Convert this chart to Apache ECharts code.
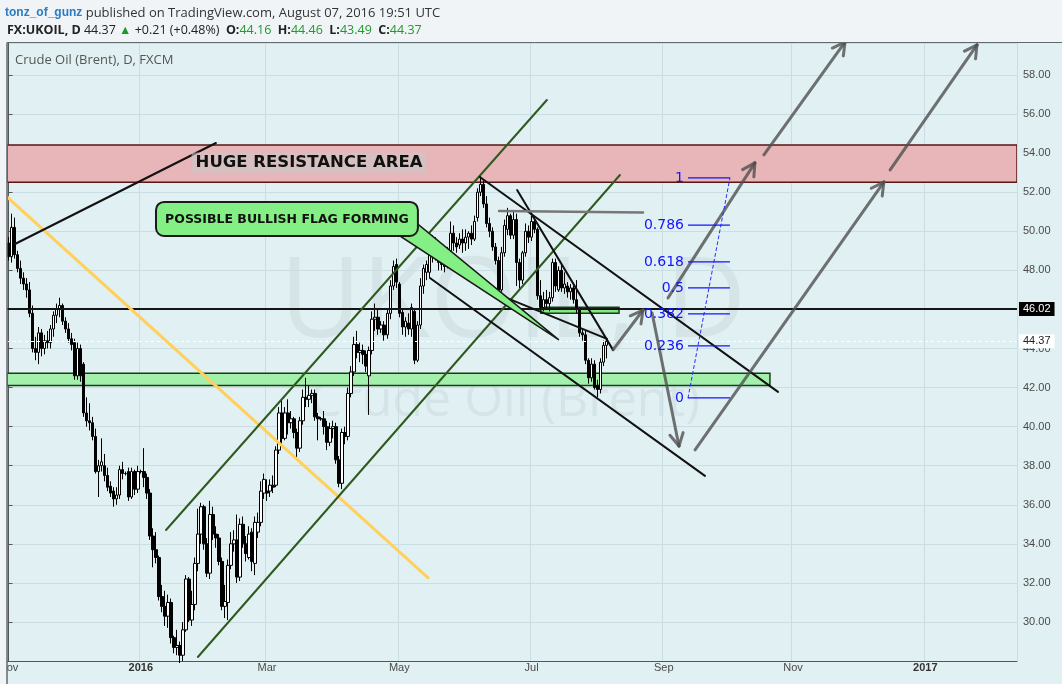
<!DOCTYPE html>
<html>
<head>
<meta charset="utf-8">
<title>Crude Oil (Brent), D, FXCM</title>
<script src="https://cdn.jsdelivr.net/npm/echarts/dist/echarts.min.js"></script>
<style>
  html, body { margin: 0; padding: 0; background: #e1f0f2; }
  #chart { width: 1062px; height: 684px; }
</style>
</head>
<body>
<div id="chart"></div>
<script>
// daily bars, [open, close, low, high], one array per month (weekdays only)
const nov2015 = [
  [49.4,48.7,48.5,49.7],[48.7,50.2,48.4,50.9],[50.2,48.8,48.6,50.7],[48.8,48.1,47.9,49.0],[48.1,47.6,47.3,48.5],
  [47.6,47.3,47.0,47.9],[47.3,47.0,46.6,47.6],[47.0,45.8,45.6,47.4],[45.8,44.0,43.8,46.2],[44.0,43.8,43.4,44.6],
  [43.8,44.8,43.2,45.1],[44.8,44.0,43.6,45.0],[44.0,44.4,43.7,44.7],[44.4,44.3,44.0,44.9],[44.3,45.0,44.0,45.2],
  [45.0,45.7,44.6,45.9],[45.7,46.0,45.3,46.3],[46.0,46.2,45.6,46.6],[46.2,45.4,45.2,46.3],[45.4,45.0,44.8,45.6],
  [45.0,44.5,44.3,45.3]
];
const dec2015 = [
  [44.5,44.2,43.9,44.8],[44.3,42.6,42.4,44.5],[42.6,44.0,42.4,44.3],[44.0,42.6,42.3,44.2],[43.2,40.7,40.5,43.3],
  [40.7,40.3,40.0,41.5],[40.3,40.2,39.8,41.2],[40.2,39.5,39.3,40.5],[39.5,37.7,37.6,39.9],[37.7,38.0,36.4,38.3],
  [38.0,38.2,37.7,39.4],[38.0,37.5,37.2,38.6],[37.5,36.9,36.7,37.9],[36.95,36.6,36.4,37.2],[36.7,36.3,35.9,36.9],
  [36.3,36.5,36.0,36.9],[36.5,37.8,36.3,38.0],[37.8,37.6,37.3,38.2],[37.6,37.6,37.5,37.7],[37.7,36.4,36.2,37.9],
  [36.4,37.7,36.3,37.9],[37.7,36.8,36.5,37.8],[36.8,37.7,36.6,38.0]
];
const jan2016 = [
  [37.7,37.7,37.6,37.8],[37.7,37.4,36.9,38.9],[37.4,36.6,36.3,37.6],[36.6,34.4,34.2,36.8],[34.4,33.7,32.8,34.8],
  [33.7,33.3,33.0,34.6],[33.3,31.3,31.1,33.4],[31.3,30.8,30.5,31.9],[30.8,30.3,29.8,31.6],[30.3,31.0,29.7,31.4],
  [31.0,29.2,28.9,31.2],[29.2,28.7,28.4,29.3],[28.7,28.8,28.3,29.6],[28.8,28.3,27.9,29.0],[28.3,29.6,28.0,30.0],
  [29.6,32.2,29.5,32.4],[32.2,30.1,30.0,32.3],[30.1,30.9,29.8,31.6],[30.9,33.0,30.6,33.3],[33.0,34.5,32.6,35.8],
  [34.5,35.9,34.0,36.1]
];
const feb2016 = [
  [35.9,34.0,33.7,36.0],[34.0,32.5,32.3,34.3],[32.5,35.5,32.2,36.2],[35.5,34.5,34.2,35.9],[34.5,34.3,33.8,34.9],
  [34.3,33.1,32.9,34.5],[33.1,30.8,30.6,33.3],[30.8,31.05,30.2,31.9],[31.0,32.9,30.1,33.2],[32.9,34.0,32.7,34.6],
  [34.0,34.2,33.6,34.7],[34.2,32.3,32.0,35.5],[32.3,35.0,32.1,35.3],[35.0,34.0,33.8,35.4],[34.0,33.5,33.1,34.4],
  [33.3,34.5,33.2,34.9],[34.6,33.1,32.6,34.8],[33.0,35.1,32.4,35.4],[34.6,35.1,34.3,35.6],[35.1,36.7,34.9,37.2],
  [36.6,37.3,36.3,37.6]
];
const mar2016 = [
  [36.7,36.6,36.2,37.3],[36.7,37.0,36.4,37.3],[37.0,36.9,36.6,37.5],[37.0,38.8,36.9,39.0],[38.8,40.7,38.6,41.0],
  [40.7,39.4,39.1,41.4],[39.4,40.7,39.3,41.0],[40.7,40.2,39.6,41.4],[40.2,40.4,39.9,40.8],[40.4,39.7,39.4,40.5],
  [39.7,38.9,38.4,39.9],[38.9,40.3,38.7,40.5],[40.3,41.5,40.1,41.9],[41.5,41.4,41.0,42.5],[41.4,41.6,41.0,42.1],
  [41.6,41.7,41.2,41.9],[41.7,40.5,40.3,41.9],[40.5,40.4,39.3,40.7],[40.4,40.4,40.3,40.5],[40.4,40.0,39.6,40.8],
  [40.0,39.2,38.8,40.3],[39.2,39.9,39.0,40.2],[39.9,40.0,39.4,40.3]
];
const apr2016 = [
  [40.0,38.3,38.1,40.2],[38.3,37.1,36.9,38.5],[37.1,39.7,36.8,39.9],[39.7,39.5,39.1,40.0],[39.5,41.7,39.3,42.0],
  [41.7,42.8,41.5,43.1],[42.8,44.2,42.6,44.6],[44.2,43.8,43.5,44.9],[43.8,43.9,43.3,44.3],[43.9,43.7,43.2,44.2],
  [43.7,43.1,42.8,43.9],[42.6,43.9,40.6,44.1],[43.9,45.5,43.7,45.9],[45.5,45.6,44.9,46.3],[45.6,45.0,44.7,46.0],
  [45.0,45.2,44.8,45.4],[45.2,44.7,44.4,45.4],[44.7,45.8,44.5,46.0],[45.8,47.2,45.5,47.5],[47.2,48.2,47.0,48.5],
  [48.3,47.4,47.1,48.6]
];
const may2016 = [
  [47.3,45.8,45.6,47.4],[45.85,45.1,44.7,46.0],[45.1,45.4,44.6,45.6],[45.3,45.0,44.7,45.8],[45.0,46.1,44.6,46.3],
  [45.9,43.4,43.2,46.0],[43.4,45.2,43.3,45.4],[45.2,47.2,45.0,47.6],[47.2,48.1,46.8,48.3],[47.9,48.3,47.5,48.5],
  [47.9,49.3,47.6,49.8],[48.7,49.6,48.4,49.8],[49.6,48.8,48.5,49.7],[48.4,48.85,48.0,49.2],[48.85,48.3,48.0,49.1],
  [48.8,48.2,47.9,49.0],[48.3,49.0,48.1,49.2],[49.0,49.9,48.9,50.5],[49.9,49.4,49.0,50.3],[49.4,49.2,48.9,49.7],
  [49.3,49.6,49.1,49.9],[49.6,49.4,48.9,50.1]
];
const jun2016 = [
  [49.4,49.7,49.0,50.1],[49.7,49.9,49.1,50.0],[49.9,49.6,49.3,50.3],[49.6,50.5,49.5,50.8],[50.7,52.0,50.5,52.2],
  [52.0,52.4,51.8,52.9],[52.4,51.4,51.2,52.6],[51.4,50.4,50.2,51.8],[50.4,50.0,49.7,50.7],[50.0,49.2,49.0,50.2],
  [49.2,48.5,48.3,49.4],[48.5,47.0,46.8,48.7],[47.0,48.9,46.9,49.2],[48.9,50.3,48.7,50.6],[50.1,50.8,49.8,51.2],
  [50.8,49.8,49.6,50.9],[49.8,50.6,49.6,51.0],[50.6,48.4,47.2,50.9],[48.4,47.5,47.0,48.6],[47.5,48.9,47.3,49.0],
  [48.9,50.0,48.7,50.4],[50.0,49.7,49.4,50.3]
];
const jul2016 = [
  [49.7,50.5,49.5,50.8],[50.5,50.1,49.9,50.6],[50.1,46.7,46.5,50.2],[46.7,46.1,45.9,47.5],[46.1,46.5,45.9,46.9],
  [46.5,46.3,46.0,47.0],[46.3,46.6,45.9,46.9],[46.6,48.4,46.4,48.6],[48.4,47.2,46.9,48.6],[47.0,48.0,46.9,48.2],
  [48.0,47.1,46.9,48.3],[47.1,47.3,46.8,47.9],[47.2,46.9,46.6,47.4],[46.9,47.1,46.5,47.3],[47.1,46.5,46.3,47.3],
  [46.5,46.1,45.8,47.5],[46.0,44.8,44.6,46.1],[44.8,44.7,44.4,45.0],[44.7,43.4,43.2,44.9],[43.4,42.5,42.2,43.5],
  [42.5,43.2,42.3,43.5]
];
const aug2016 = [
  [43.2,42.0,41.9,43.4],[42.1,41.9,41.5,42.4],[41.9,43.3,41.7,43.5],[43.3,44.16,43.1,44.4],[44.16,44.37,43.49,44.46]
];

// price axis ticks
const priceMin = 28, priceMax = 59.638, priceStep = 2;
const lastPrice = 44.37;
const supportLevel = 46.02;

// drawings, in [bar index, price] coordinates
const yellowLine   = [[-0.5, 51.76, 139.6, 32.26]];
const blackLines   = [
  [2.16, 49.35, 69.0, 54.52],
  [156.8, 52.78, 256.0, 41.78],
  [169.2, 52.11, 201.1, 43.93],
  [140.2, 47.61, 231.7, 37.48],
  [157.5, 47.10, 199.1, 44.49]
];
const greenChannel = [[52.4, 34.71, 179.1, 56.72], [63.0, 28.21, 203.4, 52.88]];
const grayLevel    = [[163.2, 51.04, 211.1, 50.96]];
const arrowSegs    = [
  [201.1, 43.93, 211.1, 45.97],
  [214.1, 45.82, 223.05, 39.01],
  [219.4, 46.59, 248.3, 53.50],
  [251.3, 53.91, 278.3, 59.69],
  [228.4, 38.81, 291.2, 52.52],
  [293.3, 53.14, 322.2, 59.54]
];
const resistanceZone = [-0.5, 335.5, 52.51, 54.42];
const supportZone    = [-0.5, 253.3, 42.10, 42.73];
const julyBox        = [177.1, 203.1, 45.80, 46.11];
const fibRatios = ['0', '0.236', '0.382', '0.5', '0.618', '0.786', '1'];
const fibPrices = [41.47, 44.13, 45.77, 47.10, 48.43, 50.32, 52.73];
const fibBars   = [226.05, 240.0];
const calloutBox  = [49.07, 136.2, 49.76, 51.50];
const calloutTail = [[130.2, 49.76], [136.2, 50.37], [183.1, 44.44]];
const resistanceLabelAt = [99.97, 53.50];

const bars = [].concat(nov2015, dec2015, jan2016, feb2016, mar2016, apr2016, may2016, jun2016, jul2016, aug2016);

// weekday categories from the first bar, running on into the empty future space
const N_CATS = 336;
const dates = [];
let day = new Date(Date.UTC(2015, 10, 2));
while (dates.length < N_CATS) {
  const wd = day.getUTCDay();
  if (wd !== 0 && wd !== 6) dates.push(day.toISOString().slice(0, 10));
  day = new Date(day.getTime() + 86400000);
}
const monthNames = ['Jan','Feb','Mar','Apr','May','Jun','Jul','Aug','Sep','Oct','Nov','Dec'];
const isMark = (i) => {
  const m = +dates[i].slice(5, 7) - 1;
  if (m % 2 !== 0) return false;
  return i === 0 || dates[i - 1].slice(5, 7) !== dates[i].slice(5, 7);
};

const gridColor = '#c9dde2';

function segSeries(segs, stroke, width, arrow, dash) {
  return {
    type: 'custom', xAxisIndex: 1, yAxisIndex: 0, z: 5, clip: true, silent: true,
    data: segs,
    encode: { x: [0, 2], y: [1, 3] },
    renderItem: function (params, api) {
      const a = api.coord([api.value(0), api.value(1)]);
      const b = api.coord([api.value(2), api.value(3)]);
      const kids = [{
        type: 'line',
        shape: { x1: a[0], y1: a[1], x2: b[0], y2: b[1] },
        style: { stroke: stroke, lineWidth: width, lineDash: dash || null, lineCap: 'round' }
      }];
      if (arrow) {
        const ang = Math.atan2(b[1] - a[1], b[0] - a[0]);
        [ang + Math.PI - 0.5, ang + Math.PI + 0.5].forEach(function (t) {
          kids.push({
            type: 'line',
            shape: { x1: b[0], y1: b[1], x2: b[0] + 14 * Math.cos(t), y2: b[1] + 14 * Math.sin(t) },
            style: { stroke: stroke, lineWidth: width, lineCap: 'round' }
          });
        });
      }
      return { type: 'group', children: kids };
    }
  };
}

function zoneSeries(zone, fill, stroke, width) {
  return {
    type: 'custom', xAxisIndex: 1, yAxisIndex: 0, z: 1, clip: true, silent: true,
    data: [zone],
    encode: { x: [0, 1], y: [2, 3] },
    renderItem: function (params, api) {
      const p0 = api.coord([api.value(0), api.value(2)]);
      const p1 = api.coord([api.value(1), api.value(3)]);
      return {
        type: 'rect',
        shape: { x: p0[0], y: p1[1], width: p1[0] - p0[0], height: p0[1] - p1[1] },
        style: { fill: fill, stroke: stroke, lineWidth: width }
      };
    }
  };
}

const fibSeries = {
  type: 'custom', xAxisIndex: 1, yAxisIndex: 0, z: 6, clip: true, silent: true,
  data: fibPrices.map(function (p) { return [fibBars[0], p, fibBars[1]]; }),
  encode: { x: [0, 2], y: 1 },
  renderItem: function (params, api) {
    const a = api.coord([api.value(0), api.value(1)]);
    const b = api.coord([api.value(2), api.value(1)]);
    return {
      type: 'group',
      children: [
        { type: 'line', shape: { x1: a[0], y1: a[1], x2: b[0], y2: b[1] }, style: { stroke: '#1414ff', lineWidth: 1.2 } },
        { type: 'text', x: a[0] - 4, y: a[1], style: {
          text: fibRatios[params.dataIndex], font: '14px "DejaVu Sans"', fill: '#1414ff',
          align: 'right', verticalAlign: 'middle' } }
      ]
    };
  }
};

const calloutSeries = {
  type: 'custom', xAxisIndex: 1, yAxisIndex: 0, z: 7, clip: true, silent: true,
  data: [calloutBox],
  encode: { x: [0, 1], y: [2, 3] },
  renderItem: function (params, api) {
    const tl = api.coord([api.value(0), api.value(3)]);
    const br = api.coord([api.value(1), api.value(2)]);
    const tail = calloutTail.map(function (p) { return api.coord(p); });
    return {
      type: 'group',
      children: [
        { type: 'polygon', shape: { points: tail }, style: { fill: '#84ef84', stroke: '#1a1a1a', lineWidth: 1.5 } },
        { type: 'rect', shape: { x: tl[0], y: tl[1], width: br[0] - tl[0], height: br[1] - tl[1], r: 8 },
          style: { fill: '#84ef84', stroke: '#1a1a1a', lineWidth: 2 } },
        { type: 'text', x: (tl[0] + br[0]) / 2, y: (tl[1] + br[1]) / 2 + 1, style: {
          text: 'POSSIBLE BULLISH FLAG FORMING', font: 'bold 12.5px "DejaVu Sans"', fill: '#111',
          align: 'center', verticalAlign: 'middle' } }
      ]
    };
  }
};

const resistanceLabel = {
  type: 'custom', xAxisIndex: 1, yAxisIndex: 0, z: 7, silent: true,
  data: [resistanceLabelAt],
  encode: { x: 0, y: 1 },
  renderItem: function (params, api) {
    const p = api.coord([api.value(0), api.value(1)]);
    return { type: 'text', x: p[0], y: p[1], style: {
      text: 'HUGE RESISTANCE AREA', font: 'bold 16.5px "DejaVu Sans"', fill: '#111',
      align: 'center', verticalAlign: 'middle', backgroundColor: 'rgba(200,200,200,0.55)', padding: [2, 4] } };
  }
};

const chart = echarts.init(document.getElementById('chart'));
chart.setOption({
  animation: false,
  backgroundColor: '#e1f0f2',
  grid: { left: 7, right: 45, top: 43, bottom: 22.93, containLabel: false, outerBoundsMode: 'none' },
  xAxis: [
    {
      type: 'category', data: dates, boundaryGap: true,
      axisLine: { lineStyle: { color: '#555' } },
      axisTick: { show: false },
      axisLabel: {
        interval: function (i) { return isMark(i); },
        margin: 1, fontSize: 11, color: '#4a4a4a', fontFamily: 'Liberation Sans',
        formatter: function (v) {
          const m = +v.slice(5, 7) - 1;
          return m === 0 ? '{y|' + v.slice(0, 4) + '}' : monthNames[m];
        },
        rich: { y: { fontWeight: 'bold', fontSize: 11, color: '#333', fontFamily: 'Liberation Sans' } }
      },
      splitLine: { show: true, interval: function (i) { return isMark(i); }, lineStyle: { color: gridColor } }
    },
    { type: 'value', min: -0.5, max: N_CATS - 0.5, show: false }
  ],
  yAxis: {
    type: 'value', position: 'right', min: priceMin, max: priceMax, interval: priceStep,
    axisLine: { show: true, lineStyle: { color: '#555' } },
    axisTick: { show: true, length: 4, lineStyle: { color: '#555' } },
    axisLabel: {
      showMinLabel: false, showMaxLabel: false, margin: 6,
      fontSize: 11, color: '#4a4a4a', fontFamily: 'Liberation Sans',
      formatter: function (v) { return v.toFixed(2); }
    },
    splitLine: { show: true, lineStyle: { color: gridColor } }
  },
  graphic: [
    { type: 'text', x: 513, y: 305, z: 0, silent: true, style: {
      text: 'UKOIL, D', font: '112px "Open Sans"', fill: 'rgba(90,110,120,0.09)', align: 'center', verticalAlign: 'middle' } },
    { type: 'text', x: 505, y: 402, z: 0, silent: true, style: {
      text: 'Crude Oil (Brent)', font: '50px "Open Sans"', fill: 'rgba(90,110,120,0.09)', align: 'center', verticalAlign: 'middle' } },
    { type: 'rect', z: 20, silent: true, shape: { x: 0, y: 0, width: 1062, height: 42.5 }, style: { fill: '#f1f4f6' } },
    { type: 'rect', z: 20, silent: true, shape: { x: 0, y: 0, width: 6.5, height: 684 }, style: { fill: '#f1f4f6' } },
    { type: 'line', z: 21, silent: true, shape: { x1: 7, y1: 42.5, x2: 1062, y2: 42.5 }, style: { stroke: '#5f6b70', lineWidth: 1 } },
    { type: 'line', z: 21, silent: true, shape: { x1: 7, y1: 42.5, x2: 7, y2: 684 }, style: { stroke: '#5f6b70', lineWidth: 1.5 } },
    { type: 'text', x: 5, y: 13, z: 22, silent: true, style: {
      text: '{u|tonz_of_gunz} published on TradingView.com, August 07, 2016 19:51 UTC',
      font: '13px "Open Sans"', fill: '#333', verticalAlign: 'middle',
      rich: { u: { fill: '#2b7cc0', fontWeight: 'bold', font: 'bold 13px "Open Sans"' } } } },
    { type: 'text', x: 7, y: 30, z: 22, silent: true, style: {
      text: '{b|FX:UKOIL, D} 44.37 {g|\u25B2} +0.21 (+0.48%)  {b|O:}{g|44.16}  {b|H:}{g|44.46}  {b|L:}{g|43.49}  {b|C:}{g|44.37}',
      font: '12.5px "Open Sans"', fill: '#222', verticalAlign: 'middle',
      rich: {
        b: { font: 'bold 12.5px "Open Sans"', fill: '#222' },
        g: { font: '12.5px "Open Sans"', fill: '#1e9a2c' }
      } } },
    { type: 'text', x: 15, y: 60, z: 22, silent: true, style: {
      text: 'Crude Oil (Brent), D, FXCM', font: '13px "Open Sans"', fill: '#555', verticalAlign: 'middle' } }
  ],
  series: [
    zoneSeries(resistanceZone, '#e8b5b8', '#5a1515', 1.5),
    zoneSeries(supportZone, '#a3f0ad', '#163d16', 1.5),
    zoneSeries(julyBox, '#80e880', '#163d16', 1.5),
    {
      type: 'candlestick', xAxisIndex: 0, yAxisIndex: 0, z: 3, barWidth: 3,
      data: bars,
      itemStyle: { color: '#ffffff', color0: '#000000', borderColor: '#000000', borderColor0: '#000000', borderWidth: 1 },
      markLine: {
        silent: true, symbol: ['none', 'none'], animation: false,
        data: [
          { yAxis: supportLevel, lineStyle: { color: '#151515', width: 2, type: 'solid' },
            label: { position: 'end', distance: 2, formatter: supportLevel.toFixed(2), color: '#fff', backgroundColor: '#000',
              padding: [2, 4, 1, 4], fontSize: 11, fontFamily: 'Liberation Sans' } },
          { yAxis: lastPrice, lineStyle: { color: '#ffffff', width: 1, type: [3, 3] },
            label: { position: 'end', distance: 2, formatter: lastPrice.toFixed(2), color: '#222', backgroundColor: '#fff',
              padding: [2, 4, 1, 4], fontSize: 11, fontFamily: 'Liberation Sans' } }
        ]
      }
    },
    segSeries(yellowLine, '#ffd15c', 3, false),
    segSeries(greenChannel, '#2f5a1f', 2, false),
    segSeries(blackLines, '#111111', 2, false),
    segSeries(grayLevel, '#777777', 2.5, false),
    segSeries(arrowSegs, 'rgba(80,80,80,0.8)', 3, true),
    segSeries([[fibBars[0], fibPrices[0], fibBars[1], fibPrices[fibPrices.length - 1]]], '#2a2aff', 1, false, [3, 3]),
    fibSeries,
    calloutSeries,
    resistanceLabel
  ]
});
</script>
</body>
</html>
